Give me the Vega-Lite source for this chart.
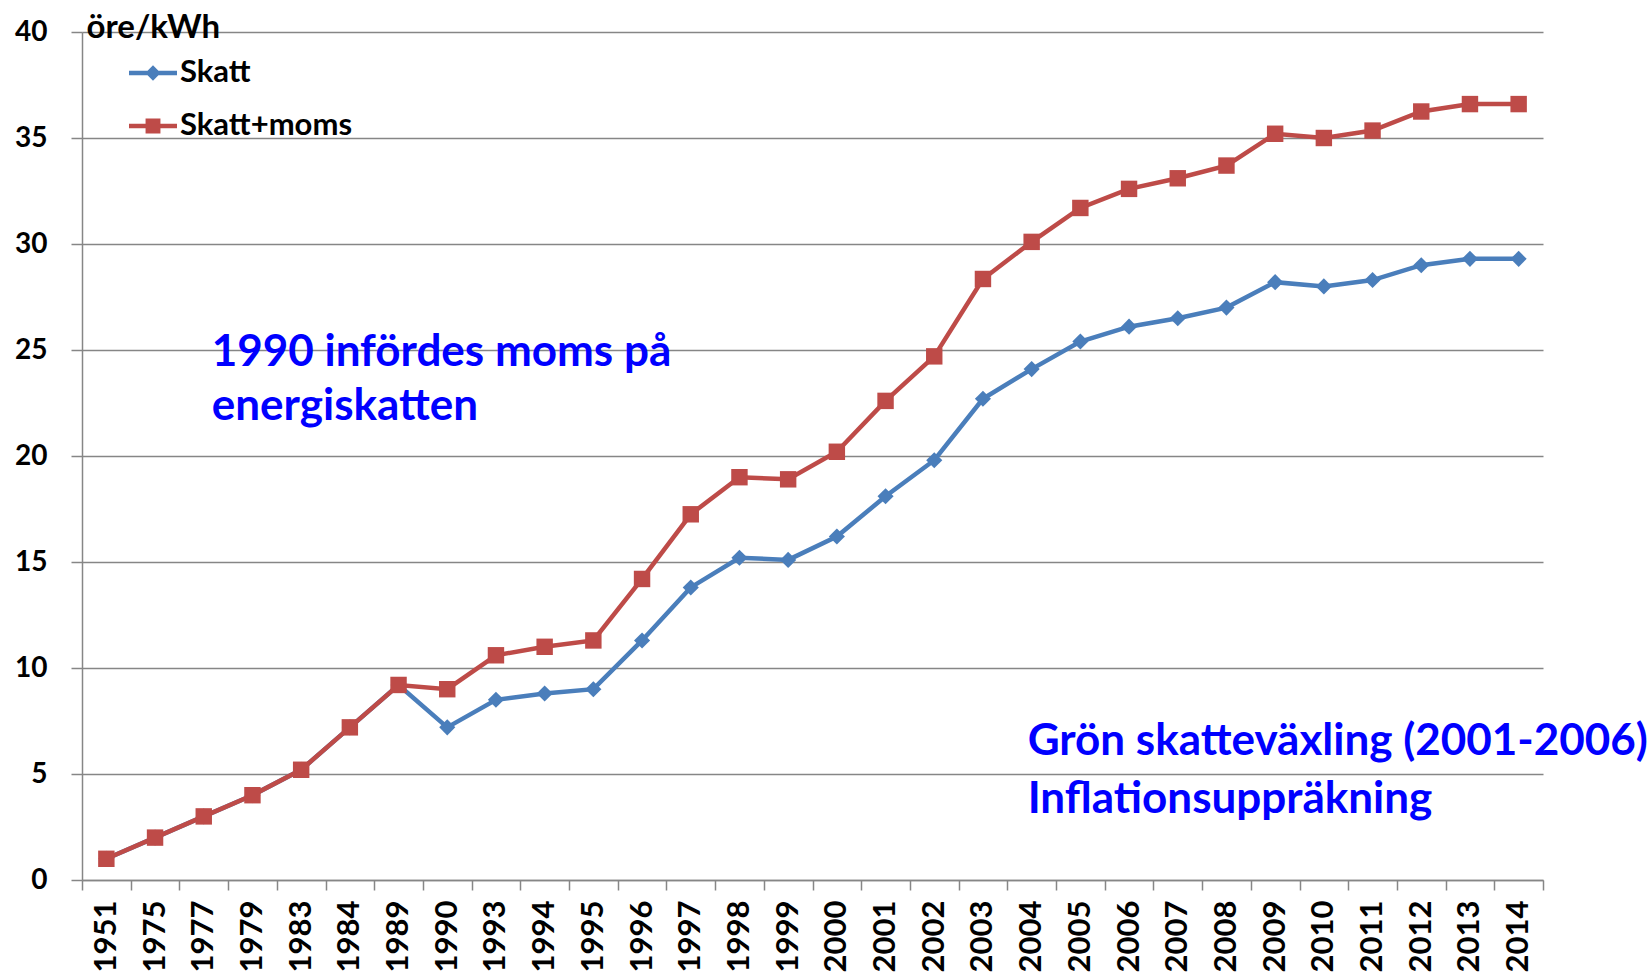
{
  "$schema": "https://vega.github.io/schema/vega-lite/v6.json",
  "width": 1461,
  "height": 848,
  "autosize": "none",
  "padding": {"left": 82, "top": 32, "right": 106, "bottom": 94},
  "background": "white",
  "config": {"view": {"stroke": null}, "font": "Lato"},
  "datasets": {
    "tax": [
      {"year": "1951", "Skatt": 1.0, "Skatt+moms": 1.0},
      {"year": "1975", "Skatt": 2.0, "Skatt+moms": 2.0},
      {"year": "1977", "Skatt": 3.0, "Skatt+moms": 3.0},
      {"year": "1979", "Skatt": 4.0, "Skatt+moms": 4.0},
      {"year": "1983", "Skatt": 5.2, "Skatt+moms": 5.2},
      {"year": "1984", "Skatt": 7.2, "Skatt+moms": 7.2},
      {"year": "1989", "Skatt": 9.2, "Skatt+moms": 9.2},
      {"year": "1990", "Skatt": 7.2, "Skatt+moms": 9.0},
      {"year": "1993", "Skatt": 8.5, "Skatt+moms": 10.6},
      {"year": "1994", "Skatt": 8.8, "Skatt+moms": 11.0},
      {"year": "1995", "Skatt": 9.0, "Skatt+moms": 11.3},
      {"year": "1996", "Skatt": 11.3, "Skatt+moms": 14.2},
      {"year": "1997", "Skatt": 13.8, "Skatt+moms": 17.25},
      {"year": "1998", "Skatt": 15.2, "Skatt+moms": 19.0},
      {"year": "1999", "Skatt": 15.1, "Skatt+moms": 18.9},
      {"year": "2000", "Skatt": 16.2, "Skatt+moms": 20.2},
      {"year": "2001", "Skatt": 18.1, "Skatt+moms": 22.6},
      {"year": "2002", "Skatt": 19.8, "Skatt+moms": 24.7},
      {"year": "2003", "Skatt": 22.7, "Skatt+moms": 28.35},
      {"year": "2004", "Skatt": 24.1, "Skatt+moms": 30.1},
      {"year": "2005", "Skatt": 25.4, "Skatt+moms": 31.7},
      {"year": "2006", "Skatt": 26.1, "Skatt+moms": 32.6},
      {"year": "2007", "Skatt": 26.5, "Skatt+moms": 33.1},
      {"year": "2008", "Skatt": 27.0, "Skatt+moms": 33.7},
      {"year": "2009", "Skatt": 28.2, "Skatt+moms": 35.2},
      {"year": "2010", "Skatt": 28.0, "Skatt+moms": 35.0},
      {"year": "2011", "Skatt": 28.3, "Skatt+moms": 35.35},
      {"year": "2012", "Skatt": 29.0, "Skatt+moms": 36.25},
      {"year": "2013", "Skatt": 29.3, "Skatt+moms": 36.6},
      {"year": "2014", "Skatt": 29.3, "Skatt+moms": 36.6}
    ],
    "note1": [
      {"year": "1977", "value": 24.25, "label": ["1990 infördes moms på", "energiskatten"]}
    ],
    "note2": [
      {"year": "2004", "value": 5.9, "label": ["Grön skatteväxling (2001-2006)", "Inflationsuppräkning"]}
    ]
  },
  "encoding": {
    "x": {
      "field": "year",
      "type": "ordinal",
      "sort": null,
      "scale": {
        "domain": ["1951","1975","1977","1979","1983","1984","1989","1990","1993","1994","1995","1996","1997","1998","1999","2000","2001","2002","2003","2004","2005","2006","2007","2008","2009","2010","2011","2012","2013","2014"],
        "paddingInner": 0,
        "paddingOuter": 0
      },
      "axis": {
        "title": null,
        "tickBand": "extent",
        "grid": false,
        "labelAngle": 270,
        "labelAlign": "right",
        "labelBaseline": "middle",
        "labelFont": "Lato",
        "labelFontSize": 31,
        "labelFontWeight": "bold",
        "labelColor": "black",
        "labelPadding": 10,
        "tickSize": 10,
        "tickColor": "#868686",
        "tickWidth": 1.5,
        "domainColor": "#868686",
        "domainWidth": 1.5
      }
    },
    "y": {
      "field": "value",
      "type": "quantitative",
      "scale": {"domain": [0, 40], "nice": false},
      "axis": {
        "values": [0, 5, 10, 15, 20, 25, 30, 35, 40],
        "title": "öre/kWh",
        "titleAngle": 0,
        "titleX": 4,
        "titleY": 5,
        "titleAlign": "left",
        "titleBaseline": "alphabetic",
        "titleFont": "Lato",
        "titleFontSize": 33,
        "titleFontWeight": "bold",
        "titleColor": "black",
        "labelFont": "Lato",
        "labelFontSize": 28,
        "labelFontWeight": "bold",
        "labelColor": "black",
        "labelPadding": 24,
        "tickSize": 11,
        "tickColor": "#868686",
        "tickWidth": 1.5,
        "domainColor": "#868686",
        "domainWidth": 1.5,
        "grid": true,
        "gridColor": "#868686",
        "gridWidth": 1.5
      }
    }
  },
  "layer": [
    {
      "data": {"name": "tax"},
      "transform": [{"fold": ["Skatt", "Skatt+moms"], "as": ["serie", "value"]}],
      "layer": [
        {
          "transform": [{"filter": "datum.serie === 'Skatt'"}],
          "mark": {"type": "line", "strokeWidth": 4.5, "color": "#4A7EBB"}
        },
        {
          "transform": [{"filter": "datum.serie === 'Skatt'"}],
          "mark": {"type": "point", "filled": true, "shape": "diamond", "size": 260, "opacity": 1, "color": "#4A7EBB"}
        },
        {
          "transform": [{"filter": "datum.serie === 'Skatt+moms'"}],
          "mark": {"type": "line", "strokeWidth": 4.5, "color": "#BE4B48"}
        },
        {
          "transform": [{"filter": "datum.serie === 'Skatt+moms'"}],
          "mark": {"type": "point", "filled": true, "shape": "square", "size": 270, "opacity": 1, "color": "#BE4B48"}
        },
        {
          "transform": [{"filter": "datum.year === '1951'"}],
          "mark": {"type": "point", "filled": true, "opacity": 0},
          "encoding": {
            "color": {
              "field": "serie",
              "type": "nominal",
              "scale": {"domain": ["Skatt", "Skatt+moms"], "range": ["#4A7EBB", "#BE4B48"]},
              "legend": {
                "orient": "none",
                "legendX": 47,
                "legendY": 17,
                "title": null,
                "padding": 0,
                "symbolSize": 2304,
                "symbolStrokeWidth": 0,
                "symbolOpacity": 1,
                "labelFont": "Lato",
                "labelFontSize": 31,
                "labelFontWeight": "bold",
                "labelColor": "black",
                "labelOffset": 3,
                "labelLimit": 400,
                "rowPadding": 14
              }
            },
            "shape": {
              "field": "serie",
              "type": "nominal",
              "scale": {
                "domain": ["Skatt", "Skatt+moms"],
                "range": [
                  "M-1,-0.09H1V0.09H-1Z M0,-0.32L0.32,0L0,0.32L-0.32,0Z",
                  "M-1,-0.09H1V0.09H-1Z M-0.31,-0.31H0.31V0.31H-0.31Z"
                ]
              },
              "legend": {
                "orient": "none",
                "legendX": 47,
                "legendY": 17,
                "title": null,
                "padding": 0,
                "symbolSize": 2304,
                "symbolStrokeWidth": 0,
                "symbolOpacity": 1,
                "labelFont": "Lato",
                "labelFontSize": 31,
                "labelFontWeight": "bold",
                "labelColor": "black",
                "labelOffset": 3,
                "labelLimit": 400,
                "rowPadding": 14
              }
            }
          }
        }
      ]
    },
    {
      "data": {"name": "note1"},
      "mark": {"type": "text", "align": "left", "baseline": "alphabetic", "dx": 8, "font": "Lato", "fontSize": 44, "fontWeight": "bold", "color": "#0000FF", "lineHeight": 54},
      "encoding": {"text": {"field": "label"}}
    },
    {
      "data": {"name": "note2"},
      "mark": {"type": "text", "align": "left", "baseline": "alphabetic", "dx": -4, "font": "Lato", "fontSize": 44, "fontWeight": "bold", "color": "#0000FF", "lineHeight": 58},
      "encoding": {"text": {"field": "label"}}
    }
  ]
}
